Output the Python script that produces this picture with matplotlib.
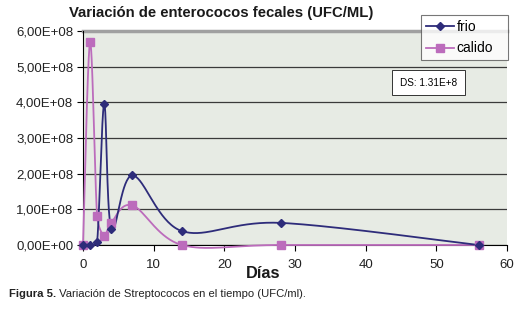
import numpy as np
import matplotlib
matplotlib.use("Agg")
import matplotlib.pyplot as plt
from matplotlib.ticker import FuncFormatter, MultipleLocator

plt.rcParams['font.family'] = ['Liberation Sans', 'DejaVu Sans']

dias = [0, 1, 2, 3, 4, 7, 14, 28, 56]
frio = [0.0, 0.01e8, 0.09e8, 3.96e8, 0.45e8, 1.95e8, 0.39e8, 0.62e8, 0.0]
calido = [0.0, 5.68e8, 0.81e8, 0.26e8, 0.62e8, 1.11e8, 0.0, 0.0, 0.0]

title = "Variación de enterococos fecales (UFC/ML)"
xlabel = "Días"
ds_text = "DS: 1.31E+8"
caption_bold = "Figura 5."
caption_rest = " Variación de Streptococos en el tiempo (UFC/ml)."

C_FRIO = "#2E2C7A"
C_CAL = "#BC6CBC"

# approximate pixel scale of the plot area (for the Excel-like smoothing)
SX = 424 / 60.0
SY = 214 / 6e8


def smooth(x, y, n=40):
    # Excel-style smoothed line: cubic Bezier with Catmull-Rom tangents (1/6),
    # arm length limited relative to the segment length (in screen units)
    P = np.column_stack([np.asarray(x, float) * SX, np.asarray(y, float) * SY])
    m = len(P)
    T = np.zeros_like(P)
    for i in range(m):
        a = P[max(i - 1, 0)]
        b = P[min(i + 1, m - 1)]
        T[i] = (b - a) / 6.0
    t = np.linspace(0, 1, n)
    out = []
    for i in range(m - 1):
        p1, p2 = P[i], P[i + 1]
        seg = np.hypot(*(p2 - p1))
        a1, a2 = T[i].copy(), T[i + 1].copy()
        for a in (a1, a2):
            L = np.hypot(*a)
            lim = 0.5 * seg
            if L > lim and L > 0:
                a *= lim / L
        c1 = p1 + a1
        c2 = p2 - a2
        b = ((1 - t) ** 3)[:, None] * p1 + (3 * (1 - t) ** 2 * t)[:, None] * c1 \
            + (3 * (1 - t) * t ** 2)[:, None] * c2 + (t ** 3)[:, None] * p2
        out.append(b)
    B = np.concatenate(out)
    return B[:, 0] / SX, B[:, 1] / SY


fig = plt.figure(figsize=(5.24, 3.14), dpi=100)
ax = fig.add_axes([83 / 524, 1 - 245 / 314, 424 / 524, 214 / 314])
ax.set_facecolor("#E7EBE4")

sx, sy = smooth(dias, frio)
ax.plot(sx, sy, color=C_FRIO, lw=1.3, zorder=5, clip_on=False)
ax.plot(dias, frio, ls="none", marker="D", ms=4.5, color=C_FRIO, zorder=6, clip_on=False)
sx, sy = smooth(dias, calido)
ax.plot(sx, sy, color=C_CAL, lw=1.3, zorder=4, clip_on=False)
ax.plot(dias, calido, ls="none", marker="s", ms=6, color=C_CAL, zorder=5, clip_on=False)

ax.set_xlim(0, 60)
ax.set_ylim(0, 6e8)
ax.xaxis.set_major_locator(MultipleLocator(10))
ax.yaxis.set_major_locator(MultipleLocator(1e8))
ax.yaxis.set_major_formatter(FuncFormatter(lambda v, p: ("%.2fE+%02d" % (v / 1e8, 8)).replace(".", ",") if v != 0 else "0,00E+00"))
ax.grid(axis="y", color="#3A3A3A", lw=0.9, zorder=1)
ax.set_axisbelow(True)
for s in ["top", "right"]:
    ax.spines[s].set_visible(False)
ax.spines["left"].set_color("black")
ax.spines["bottom"].set_color("black")
ax.axhline(6e8, color="#A0A0A0", lw=2.5, zorder=1, clip_on=False)
ax.tick_params(axis="both", direction="out", length=4, width=0.8, labelsize=9.5, colors="black")
ax.tick_params(axis="y", pad=3)
ax.tick_params(axis="x", pad=6)
for lbl in ax.get_xticklabels() + ax.get_yticklabels():
    lbl.set_color("#222222")

fig.text(221 / 524, 1 - 13 / 314, title, ha="center", va="center", fontsize=10.7, fontweight="bold", color="#1A1A1A")
fig.text(263 / 524, 1 - 273 / 314, xlabel, ha="center", va="center", fontsize=11.8, fontweight="bold", color="#1A1A1A")

leg = ax.legend([plt.Line2D([], [], color=C_FRIO, marker="D", ms=4.5, lw=1.3),
                 plt.Line2D([], [], color=C_CAL, marker="s", ms=6, lw=1.3)],
                ["frio", "calido"], loc="upper left",
                bbox_to_anchor=(421 / 524, 1 - 60 / 314, 87 / 524, 45 / 314), bbox_transform=fig.transFigure,
                mode="expand", fontsize=10, frameon=True, fancybox=False, handlelength=2.0,
                handletextpad=0.2, borderpad=0.35, labelspacing=0.55, borderaxespad=0)
leg.get_frame().set_edgecolor("#555555")
leg.get_frame().set_linewidth(0.8)
leg.get_frame().set_facecolor("white")

fig.text(428.5 / 524, 1 - 82.5 / 314, ds_text, ha="center", va="center", fontsize=7.2,
         bbox=dict(boxstyle="square,pad=0.75", fc="white", ec="#333333", lw=0.7))

t1 = fig.text(9 / 524, 1 - 294 / 314, caption_bold, ha="left", va="center", fontsize=8.1, fontweight="bold", color="#222222")
fig.canvas.draw()
bb = t1.get_window_extent()
fig.text(bb.x1 / fig.bbox.width, 1 - 294 / 314, caption_rest, ha="left", va="center", fontsize=8.1, color="#222222")

fig.savefig("out.png", dpi=100)
